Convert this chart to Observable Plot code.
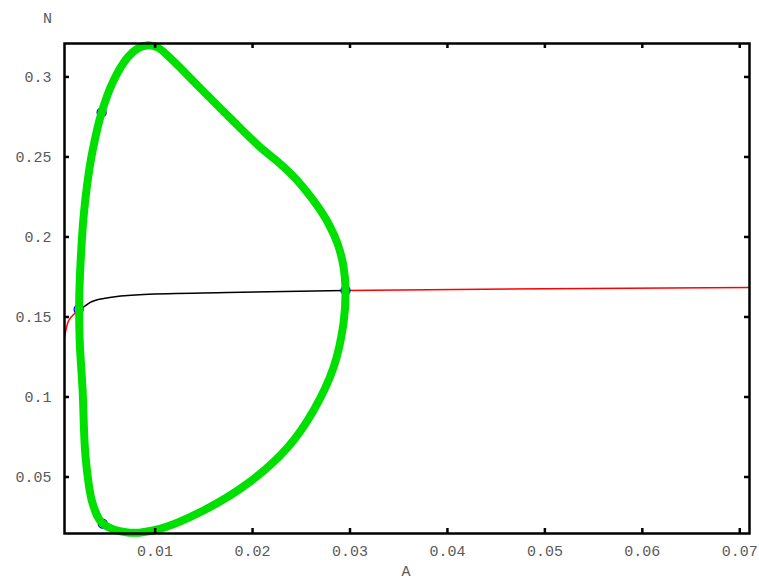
<!DOCTYPE html>
<html>
<head>
<meta charset="utf-8">
<script src="https://cdn.jsdelivr.net/npm/d3@7"></script>
<script src="https://cdn.jsdelivr.net/npm/@observablehq/plot@0.6"></script>
<style>
  html, body { margin: 0; padding: 0; background: #fff; }
  #chart svg { display: block; }
</style>
</head>
<body>
<div id="chart"></div>
<script>
// Limit cycle (green), clockwise from the top
const cycleA = [0.00913, 0.01026, 0.01159, 0.01467, 0.01774, 0.02082, 0.02256, 0.02421, 0.02554, 0.02677,
                0.02779, 0.02872, 0.02933, 0.02954, 0.02933, 0.02831, 0.02626, 0.02359, 0.01949, 0.01497,
                0.01056, 0.00718, 0.00462, 0.00359, 0.00287, 0.00256, 0.00226, 0.00221, 0.00236, 0.00267,
                0.00308, 0.00359, 0.00451, 0.00574, 0.00718, 0.00821];
const cycleN = [0.3197, 0.3184, 0.3116, 0.2928, 0.2741, 0.2559, 0.2472, 0.2378, 0.2284, 0.2184,
                0.2084, 0.1959, 0.1816, 0.1666, 0.1459, 0.1184, 0.0916, 0.0684, 0.0459, 0.0291,
                0.0178, 0.0153, 0.0209, 0.0334, 0.0622, 0.1041, 0.1353, 0.1603, 0.1853, 0.2134,
                0.2353, 0.2541, 0.2778, 0.2978, 0.3122, 0.3178];
// Stable equilibrium branch, left part (red)
const redLeftA = [0.00072, 0.00113, 0.00185, 0.00215];
const redLeftN = [0.1372, 0.1478, 0.1528, 0.1547];
// Unstable equilibrium branch (black)
const blackA = [0.00215, 0.00256, 0.00330, 0.00472, 0.00882, 0.01744, 0.02954];
const blackN = [0.1547, 0.1559, 0.1590, 0.1616, 0.1641, 0.1653, 0.1666];
// Stable equilibrium branch, right part (red)
const redRightA = [0.02954, 0.05, 0.071];
const redRightN = [0.1666, 0.1676, 0.1684];
// Special points (blue)
const specialA = [0.00215, 0.00451, 0.00462, 0.02954];
const specialN = [0.1547, 0.2778, 0.0209, 0.1666];
// Ticks
const xTicks = [0.01, 0.02, 0.03, 0.04, 0.05, 0.06, 0.07];
const yTicks = [0.05, 0.1, 0.15, 0.2, 0.25, 0.3];
const xDomain = [0.0007, 0.071];
const yDomain = [0.0147, 0.3209];

const pts = (as, ns) => as.map((a, i) => ({a, n: ns[i]}));

const W = 759, H = 583;
const mL = 64, mR = 10, mT = 43, mB = 50;
const fw = W - mL - mR, fh = H - mT - mB;
const font = "'Liberation Mono', 'DejaVu Sans Mono', monospace";
const txt = "#5a5a5a";

const chart = Plot.plot({
  width: W, height: H,
  marginLeft: mL, marginRight: mR, marginTop: mT, marginBottom: mB,
  style: {fontFamily: font, fontSize: "15px", background: "#fff", color: txt},
  x: {domain: xDomain, label: null},
  y: {domain: yDomain, label: null},
  marks: [
    Plot.line(pts(redLeftA, redLeftN), {x: "a", y: "n", stroke: "#ff0000", strokeWidth: 1.5, curve: "catmull-rom"}),
    Plot.line(pts(blackA, blackN), {x: "a", y: "n", stroke: "#000", strokeWidth: 1.5, curve: "monotone-x"}),
    Plot.line(pts(redRightA, redRightN), {x: "a", y: "n", stroke: "#ff0000", strokeWidth: 1.5}),
    Plot.dot(pts(specialA, specialN), {x: "a", y: "n", r: 4.5, stroke: "#0000ff", strokeWidth: 1.3, fill: "none"}),
    Plot.line(pts(cycleA, cycleN), {x: "a", y: "n", stroke: "#00e000", strokeWidth: 8, curve: "catmull-rom-closed", strokeLinejoin: "round"}),
    Plot.frame({stroke: "#000", strokeWidth: 2.5}),
    Plot.tickX(xTicks, {x: d => d, insetTop: fh - 5, stroke: "#000", strokeWidth: 2.5}),
    Plot.tickX(xTicks, {x: d => d, insetBottom: fh - 5, stroke: "#000", strokeWidth: 2.5}),
    Plot.tickY(yTicks, {y: d => d, insetRight: fw - 5, stroke: "#000", strokeWidth: 2.5}),
    Plot.tickY(yTicks, {y: d => d, insetLeft: fw - 5, stroke: "#000", strokeWidth: 2.5}),
    Plot.axisX(xTicks, {tickSize: 0, tickPadding: 12, fill: txt, fontSize: 15, tickFormat: d => String(d)}),
    Plot.axisY(yTicks, {tickSize: 0, tickPadding: 13, fill: txt, fontSize: 15, tickFormat: d => String(d)}),
    Plot.text(["N"], {frameAnchor: "top-left", dx: -17, dy: -31, fill: txt, fontSize: 15, textAnchor: "middle"}),
    Plot.text(["A"], {frameAnchor: "bottom", dx: -1, dy: 42, fill: txt, fontSize: 15, textAnchor: "middle"})
  ]
});
document.getElementById("chart").appendChild(chart);
</script>
</body>
</html>
